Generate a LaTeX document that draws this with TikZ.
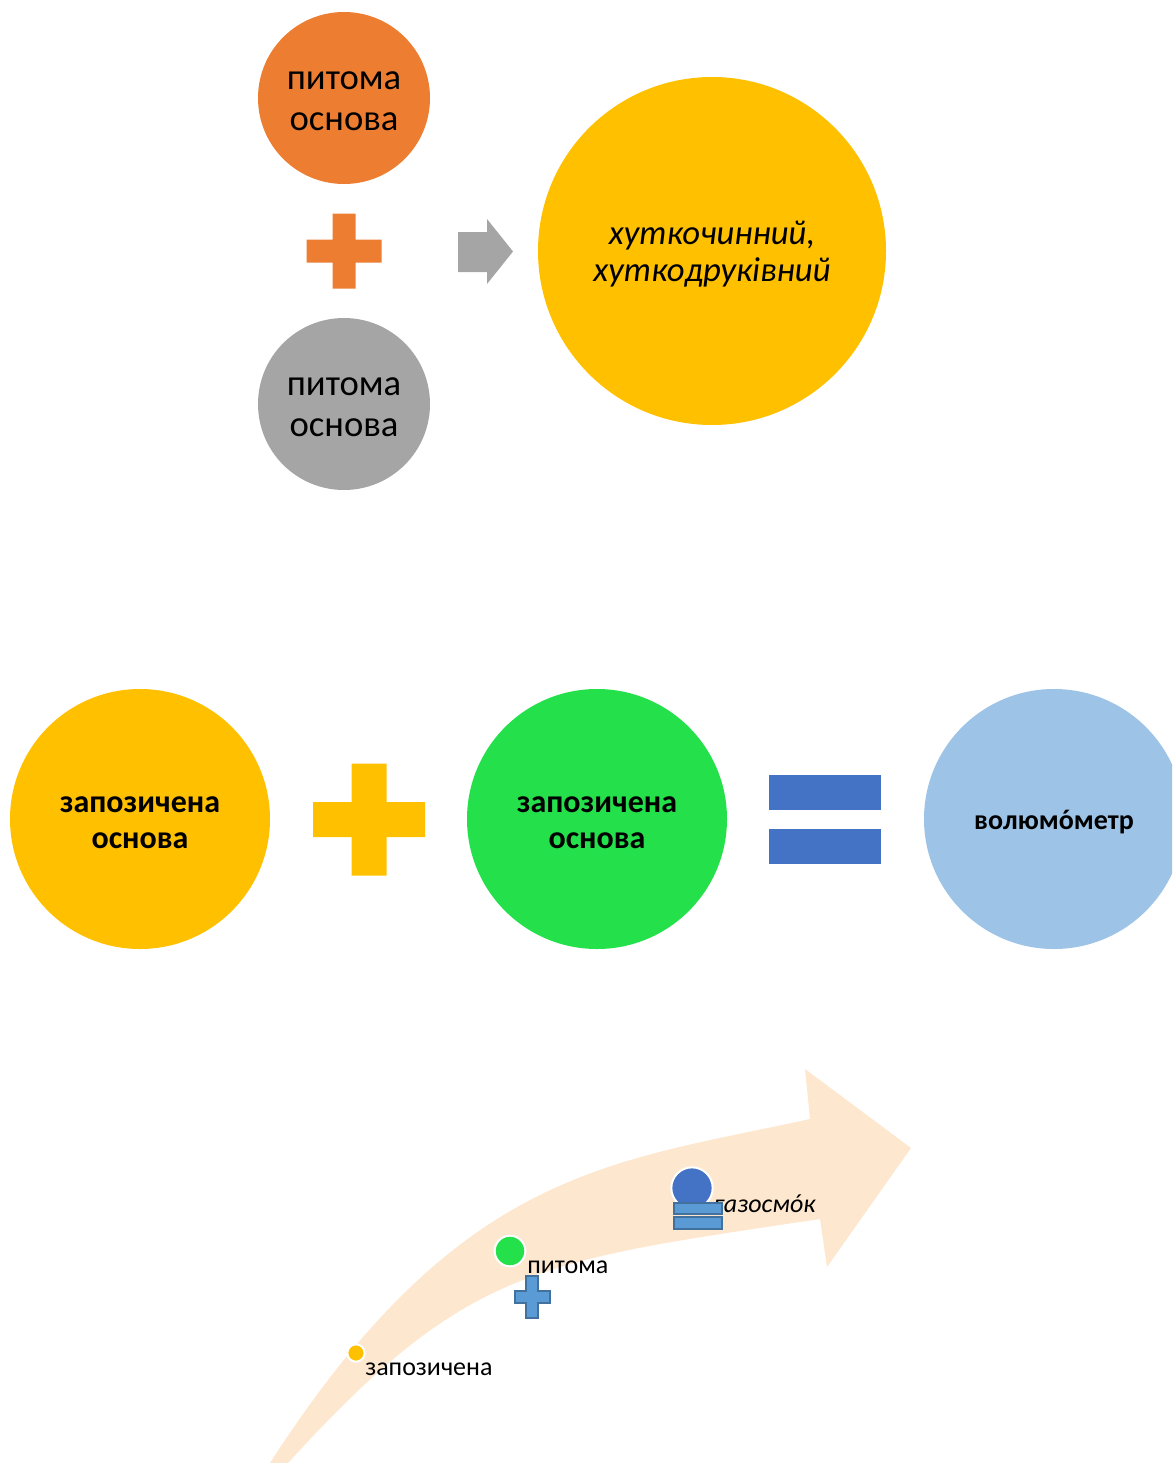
\documentclass[tikz,border=0pt]{standalone}
\usepackage{fontspec}
\setmainfont{Carlito}
\usepackage{tikz}
\definecolor{OrangeBase}{RGB}{237,125,49}
\definecolor{GrayBase}{RGB}{165,165,165}
\definecolor{GoldBase}{RGB}{255,192,0}
\definecolor{GreenBase}{RGB}{35,224,75}
\definecolor{SkyBase}{RGB}{157,195,230}
\definecolor{BlueBar}{RGB}{68,114,196}
\definecolor{MidBlue}{RGB}{91,155,213}
\definecolor{EdgeBlue}{RGB}{65,113,156}
\definecolor{Peach}{RGB}{253,231,206}

% stress mark over a vowel
\newcommand{\stressed}[1]{\ooalign{#1\cr\hidewidth\char"00B4\hidewidth\cr}}

% plus sign: style, x, y, half width, half height, half thickness
\newcommand{\plusshape}[6]{%
  \path[#1] (#2-#6,#3-#5) -- (#2+#6,#3-#5) -- (#2+#6,#3-#6) -- (#2+#4,#3-#6)
    -- (#2+#4,#3+#6) -- (#2+#6,#3+#6) -- (#2+#6,#3+#5) -- (#2-#6,#3+#5)
    -- (#2-#6,#3+#6) -- (#2-#4,#3+#6) -- (#2-#4,#3-#6) -- (#2-#6,#3-#6) -- cycle;}

\begin{document}
\begin{tikzpicture}[x=0.75pt, y=-0.75pt,
    basecircle/.style={circle, inner sep=0pt},
    circletext/.style={inner sep=0pt, align=center, text=black},
    smalldot/.style={circle, inner sep=0pt, draw=white, line width=1.5pt},
    steplabel/.style={anchor=base west, inner sep=0pt, font=\fontsize{19.5}{22}\selectfont}]
  \useasboundingbox (0,0) rectangle (1172,1463);
  \clip (0,0) rectangle (1172,1463);

  % top: two native bases give one compound
  \node[basecircle, fill=OrangeBase, minimum size=129pt] (native1) at (344,98) {};
  \node[circletext, font=\fontsize{27.5}{30.75}\selectfont] (native1 text) at ([yshift=-2.25pt]native1.center) {питома\\основа};
  \node[basecircle, fill=GrayBase, minimum size=129pt] (native2) at (344,404) {};
  \node[circletext, font=\fontsize{27.5}{30.75}\selectfont] (native2 text) at ([yshift=-2.25pt]native2.center) {питома\\основа};
  \plusshape{fill=OrangeBase}{344}{251}{37.5}{37.5}{11.5}
  \fill[GrayBase] (458,232) -- (487,232) -- (487,219) -- (513,251.5) -- (487,284) -- (487,272) -- (458,272) -- cycle;
  \node[basecircle, fill=GoldBase, minimum size=261pt] (compound) at (712,251) {};
  \node[circletext, font=\fontsize{26}{27.75}\selectfont\itshape] (compound text) at ([yshift=-2pt]compound.center) {хуткочинний,\\хуткодруківний};

  % middle: two borrowed bases
  \node[basecircle, fill=GoldBase, minimum size=195pt] (borrowed1) at (140,819) {};
  \node[circletext, font=\fontsize{24}{27}\selectfont\bfseries] (borrowed1 text) at ([yshift=-3pt]borrowed1.center) {запозичена\\основа};
  \plusshape{fill=GoldBase}{369}{819.5}{56}{56}{17.5}
  \node[basecircle, fill=GreenBase, minimum size=195pt] (borrowed2) at (597,819) {};
  \node[circletext, font=\fontsize{24}{27}\selectfont\bfseries] (borrowed2 text) at ([yshift=-3pt]borrowed2.center) {запозичена\\основа};
  \fill[BlueBar] (769,775) rectangle (881,810);
  \fill[BlueBar] (769,829) rectangle (881,864);
  \node[basecircle, fill=SkyBase, minimum size=195pt] (volumeter) at (1054,819) {};
  \node[circletext, font=\fontsize{21}{25}\selectfont\bfseries] (volumeter text) at ([yshift=-4pt]volumeter.center) {волюм\stressed{о}метр};

  % bottom: curved arrow with steps
  \fill[Peach] (270,1463) .. controls (460,1168) and (610,1163) .. (810,1119)
    -- (805,1069) -- (911,1148) -- (827,1267) -- (820,1219)
    .. controls (540,1261) and (468,1265) .. (288,1463) -- cycle;

  \node[smalldot, fill=GoldBase, minimum size=13pt] (dot1) at (356,1353) {};
  \node[steplabel] (label1) at (365,1375) {запозичена};
  \node[smalldot, fill=GreenBase, minimum size=23pt] (dot2) at (510,1251) {};
  \node[steplabel] (label2) at (527,1273) {питома};
  \plusshape{fill=MidBlue, draw=EdgeBlue, line width=1.5pt}{532}{1297}{17.5}{21}{6}
  \node[steplabel, font=\fontsize{19.5}{22}\selectfont\itshape] (label3) at (713,1212) {газосм\stressed{о}к};
  \node[smalldot, fill=BlueBar, minimum size=31pt] (dot3) at (692,1188) {};
  \draw[fill=MidBlue, draw=EdgeBlue, line width=1.5pt] (674,1203) rectangle (722,1214);
  \draw[fill=MidBlue, draw=EdgeBlue, line width=1.5pt] (674,1217) rectangle (722,1229);
\end{tikzpicture}
\end{document}
